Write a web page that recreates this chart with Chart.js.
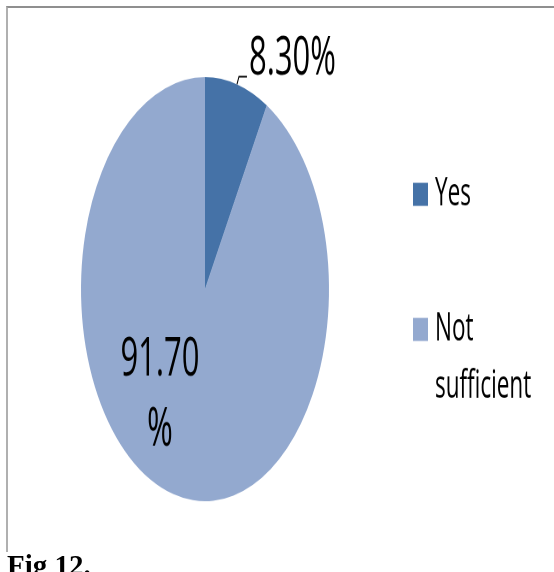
<!DOCTYPE html>
<html>
<head>
<meta charset="utf-8">
<script src="https://cdn.jsdelivr.net/npm/chart.js@4/dist/chart.umd.min.js"></script>
<style>
  html, body { margin: 0; padding: 0; background: #fff; width: 554px; height: 572px; overflow: hidden; position: relative; }
  #frame { position: absolute; left: 6px; top: 6px; width: 548px; height: 546px; box-sizing: border-box;
           border-top: 2px solid #8f8f8f; border-left: 2px solid #b0b0b0; }
  /* the chart is drawn in a flatter box and stretched vertically */
  #wrap { position: absolute; left: 7px; top: 7px; width: 547px; height: 330px;
          transform: scaleY(1.71); transform-origin: 0 0; }
  #caption { position: absolute; left: 7px; top: 551px; font: bold 29px "Liberation Serif", "Times New Roman", serif;
             line-height: 28px; color: #000; white-space: nowrap; }
</style>
</head>
<body>
<div id="frame"></div>
<div id="wrap"><canvas id="c" width="547" height="330"></canvas></div>
<div id="caption">Fig 12.</div>
<script>
const categories = ['Yes', 'Not sufficient'];
const shares = [8.3, 91.7];
const sliceColors = ['#4572A7', '#93A9CF'];

const LABEL_FONT = '31px "Open Sans", sans-serif';
const LEGEND_FONT = '22.5px "Open Sans", sans-serif';

// value labels: small slices get a leader line outside, large ones sit inside
const sliceLabels = {
  id: 'sliceLabels',
  afterDatasetsDraw(chart) {
    const ctx = chart.ctx;
    const arcs = chart.getDatasetMeta(0).data;
    ctx.save();
    ctx.fillStyle = '#000';
    ctx.strokeStyle = '#000';
    ctx.lineWidth = 1;
    ctx.font = LABEL_FONT;
    arcs.forEach((arc, i) => {
      const p = arc.getProps(['x', 'y', 'startAngle', 'endAngle', 'outerRadius'], true);
      const mid = (p.startAngle + p.endAngle) / 2;
      const num = shares[i].toFixed(2);
      if (shares[i] < 50) {
        const ex = p.x + Math.cos(mid) * p.outerRadius;
        const ey = p.y + Math.sin(mid) * p.outerRadius;
        ctx.beginPath();
        ctx.moveTo(ex, ey);
        ctx.lineTo(ex + 2, ey - 4.5);
        ctx.lineTo(ex + 10, ey - 4.5);
        ctx.stroke();
        ctx.textAlign = 'left';
        ctx.textBaseline = 'alphabetic';
        ctx.fillText(num + '%', ex + 12, ey - 5.5);
      } else {
        const a = mid + 0.377;
        const cx = p.x + Math.cos(a) * p.outerRadius * 0.61;
        const cy = p.y + Math.sin(a) * p.outerRadius * 0.61;
        ctx.textAlign = 'center';
        ctx.textBaseline = 'alphabetic';
        ctx.fillText(num, cx, cy - 10.5);
        ctx.fillText('%', cx, cy + 30.5);
      }
    });
    ctx.restore();
  }
};

// legend on the right with word-wrapped entries
const sideLegend = {
  id: 'sideLegend',
  afterDraw(chart) {
    const ctx = chart.ctx;
    const labels = chart.data.labels;
    const colors = chart.data.datasets[0].backgroundColor;
    const boxX = 406, textX = 428, firstBase = 116, itemGap = 79, lineH = 33.5, maxW = 112;
    ctx.save();
    ctx.font = LEGEND_FONT;
    ctx.textAlign = 'left';
    ctx.textBaseline = 'alphabetic';
    labels.forEach((label, i) => {
      const base = firstBase + i * itemGap;
      ctx.fillStyle = colors[i];
      ctx.fillRect(boxX, base - 13.2, 15, 13.5);
      ctx.fillStyle = '#000';
      const words = label.split(' ');
      const lines = [];
      let cur = '';
      words.forEach(w => {
        const test = cur ? cur + ' ' + w : w;
        if (cur && ctx.measureText(test).width > maxW) { lines.push(cur); cur = w; }
        else cur = test;
      });
      lines.push(cur);
      lines.forEach((ln, j) => ctx.fillText(ln, textX, base + j * lineH));
    });
    ctx.restore();
  }
};

new Chart(document.getElementById('c'), {
  type: 'pie',
  data: {
    labels: categories,
    datasets: [{
      data: shares,
      backgroundColor: sliceColors,
      borderWidth: 0
    }]
  },
  options: {
    responsive: false,
    animation: false,
    devicePixelRatio: 2,
    layout: { padding: { left: 74, top: 40, right: 225, bottom: 40 } },
    plugins: {
      legend: { display: false },
      tooltip: { enabled: false },
      title: { display: false }
    }
  },
  plugins: [sliceLabels, sideLegend]
});
</script>
</body>
</html>
